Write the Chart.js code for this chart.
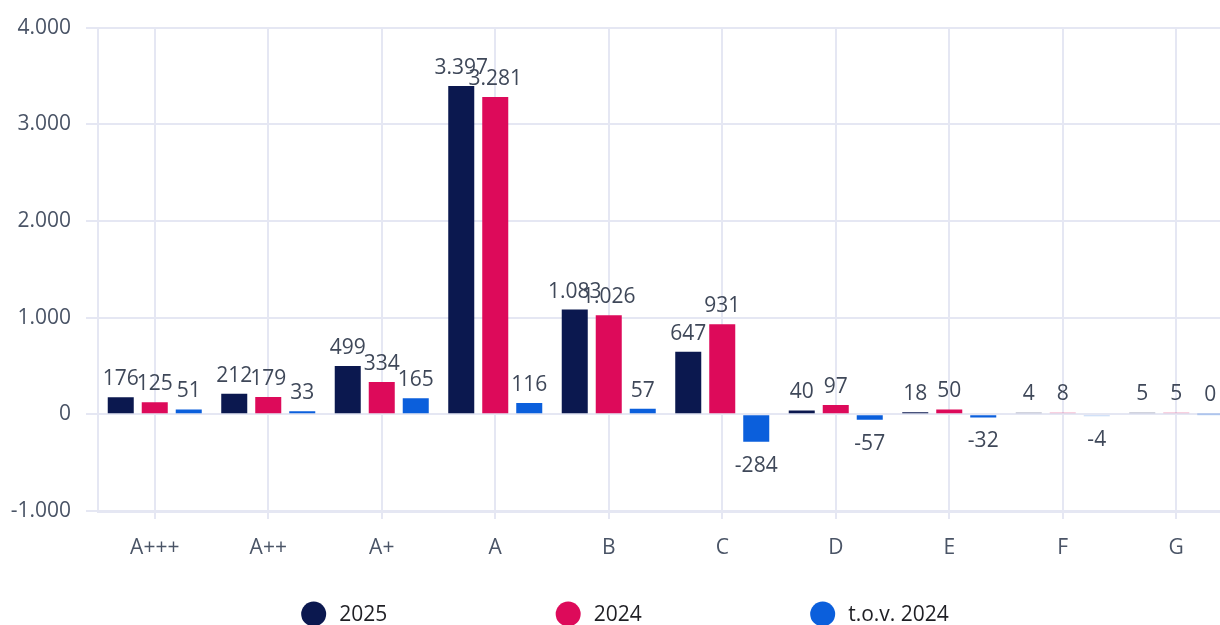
<!DOCTYPE html>
<html>
<head>
<meta charset="utf-8">
<script src="https://cdn.jsdelivr.net/npm/chart.js@4"></script>
<style>
  html, body { margin: 0; padding: 0; background: #ffffff; overflow: hidden; width: 1220px; height: 625px; }
  #wrap { position: absolute; left: 0; top: 0; width: 1250px; height: 638px; }
</style>
</head>
<body>
<div id="wrap"><canvas id="c"></canvas></div>
<script>
const categories = ['A+++', 'A++', 'A+', 'A', 'B', 'C', 'D', 'E', 'F', 'G'];
const series2025 = [176, 212, 499, 3397, 1083, 647, 40, 18, 4, 5];
const series2024 = [125, 179, 334, 3281, 1026, 931, 97, 50, 8, 5];
const seriesTov = [51, 33, 165, 116, 57, -284, -57, -32, -4, 0];
const seriesLabels = ['2025', '2024', 't.o.v. 2024'];
const seriesColors = ['#0b184f', '#dd0a5a', '#0b5fdc'];
const seriesPale = ['rgba(11,24,79,0.25)', 'rgba(221,10,90,0.25)', 'rgba(11,95,220,0.25)'];
const yTicks = [-1000, 0, 1000, 2000, 3000, 4000];

const FONT = '"Open Sans", "Noto Sans", sans-serif';
const GRID = '#e5e7f3';
const fmt = v => v.toLocaleString('nl-NL');

const valueLabels = {
  id: 'valueLabels',
  afterDatasetsDraw(chart) {
    const ctx = chart.ctx;
    ctx.save();
    ctx.font = '21px ' + FONT;
    ctx.fillStyle = '#3f4859';
    ctx.textAlign = 'center';
    ctx.textBaseline = 'middle';
    chart.data.datasets.forEach((ds, di) => {
      const meta = chart.getDatasetMeta(di);
      meta.data.forEach((bar, i) => {
        const v = ds.data[i];
        const p = bar.getProps(['x', 'y', 'base'], true);
        if (v < 0) {
          ctx.fillText(fmt(v), p.x, Math.max(p.y, p.base) + 24);
        } else {
          ctx.fillText(fmt(v), p.x, Math.min(p.y, p.base) - 18);
        }
      });
    });
    ctx.restore();
  }
};

const bottomLegend = {
  id: 'bottomLegend',
  afterDraw(chart) {
    const ctx = chart.ctx;
    ctx.save();
    ctx.font = '21px ' + FONT;
    ctx.textBaseline = 'middle';
    ctx.textAlign = 'left';
    const step = 254.5, r = 12.5, gap = 13;
    const lastW = ctx.measureText(seriesLabels[seriesLabels.length - 1]).width;
    const total = step * (seriesLabels.length - 1) + 2 * r + gap + lastW;
    let x0 = chart.width / 2 - total / 2;
    const y = chart.height - 24;
    seriesLabels.forEach((lab, i) => {
      const cx = x0 + i * step + r;
      ctx.beginPath();
      ctx.fillStyle = seriesColors[i];
      ctx.arc(cx, y, r, 0, Math.PI * 2);
      ctx.fill();
      ctx.fillStyle = '#1f1f24';
      ctx.fillText(lab, cx + r + gap, y + 1);
    });
    ctx.restore();
  }
};

new Chart(document.getElementById('c'), {
  type: 'bar',
  data: {
    labels: categories,
    datasets: [series2025, series2024, seriesTov].map((d, i) => ({
      label: seriesLabels[i],
      data: d,
      backgroundColor: c => Math.abs(c.raw) < 10 ? seriesPale[i] : seriesColors[i],
      borderWidth: 0,
      minBarLength: 2,
      categoryPercentage: 0.8987,
      barPercentage: 0.765
    }))
  },
  options: {
    responsive: true,
    maintainAspectRatio: false,
    animation: false,
    layout: { padding: { top: 26, right: 17, bottom: 77, left: 0 } },
    plugins: {
      legend: { display: false },
      tooltip: { enabled: false }
    },
    scales: {
      x: {
        grid: { color: GRID, lineWidth: 2, tickLength: 8, drawTicks: true, offset: false },
        border: { color: GRID, width: 3 },
        ticks: { font: { family: FONT, size: 21 }, color: '#4a5466', padding: 16 },
        afterFit(s) { s.height = 50; }
      },
      y: {
        min: -1000,
        max: 4000,
        afterBuildTicks(s) { s.ticks = yTicks.map(v => ({ value: v })); },
        grid: { color: GRID, lineWidth: 2, tickLength: 12 },
        border: { color: GRID, width: 2 },
        ticks: {
          font: { family: FONT, size: 21 },
          color: '#4a5466',
          padding: 15,
          callback: v => fmt(v)
        },
        afterFit(s) { s.width = 98; }
      }
    }
  },
  plugins: [valueLabels, bottomLegend]
});
</script>
</body>
</html>
